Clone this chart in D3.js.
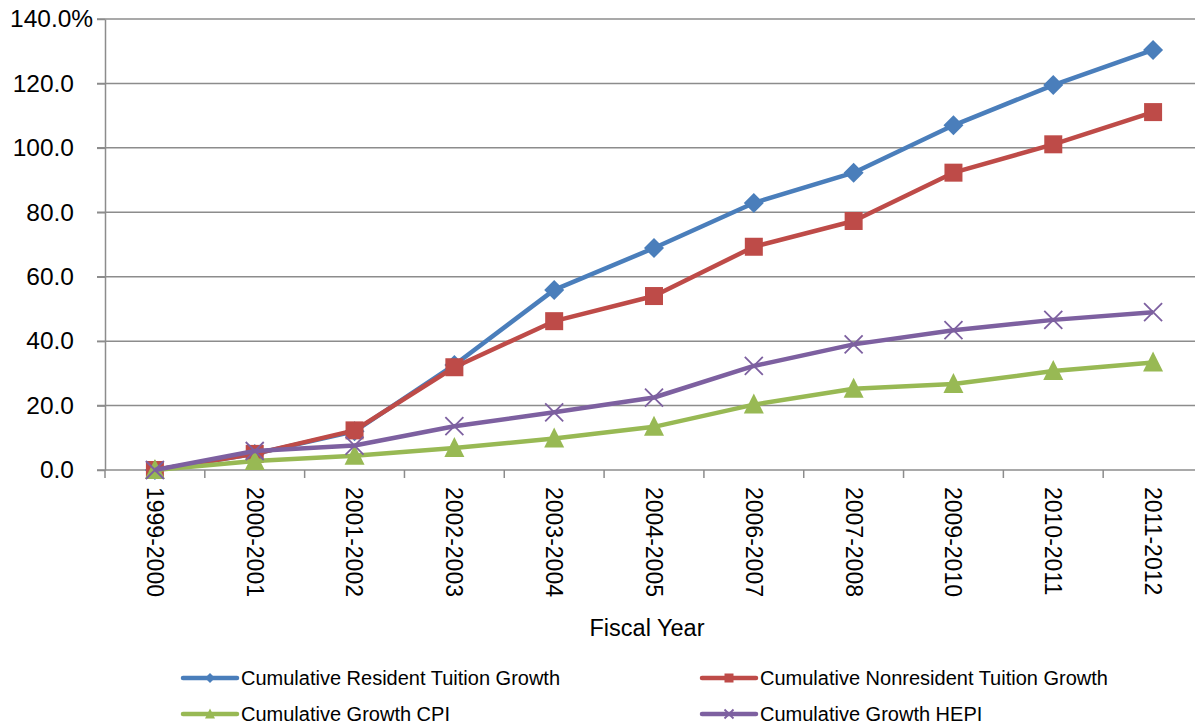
<!DOCTYPE html>
<html>
<head>
<meta charset="utf-8">
<script src="https://cdn.jsdelivr.net/npm/d3@7"></script>
<style>
  body { margin: 0; background: #fff; }
  text { font-family: "Liberation Sans", Arial, sans-serif; fill: #000; }
</style>
</head>
<body>
<div id="chart"></div>
<script>
// const
const width = 1195
const height = 726
const margin = { top: 19, bottom: 256, left: 105, right: -8 }

// data
const years = ["1999-2000", "2000-2001", "2001-2002", "2002-2003", "2003-2004", "2004-2005",
               "2006-2007", "2007-2008", "2009-2010", "2010-2011", "2011-2012"]
const resident    = [0, 5.0, 12.0, 32.6, 55.9, 68.9, 82.9, 92.3, 107.0, 119.5, 130.4]
const nonresident = [0, 5.0, 12.3, 31.9, 46.2, 54.0, 69.3, 77.3, 92.3, 101.1, 111.1]
const cpi         = [0, 2.8, 4.4, 6.8, 9.8, 13.4, 20.3, 25.2, 26.7, 30.7, 33.4]
const hepi        = [0, 5.9, 7.6, 13.6, 17.9, 22.5, 32.3, 39.0, 43.4, 46.6, 49.0]
const yTicks = [0, 20, 40, 60, 80, 100, 120, 140]

const series = [
  { name: "Cumulative Resident Tuition Growth", values: resident, color: "#4A7EBB", marker: "diamond" },
  { name: "Cumulative Nonresident Tuition Growth", values: nonresident, color: "#BE4B48", marker: "square" },
  { name: "Cumulative Growth CPI", values: cpi, color: "#98B954", marker: "triangle" },
  { name: "Cumulative Growth HEPI", values: hepi, color: "#7D60A0", marker: "cross" }
]

const svg = d3.select("#chart")
  .append("svg")
    .attr("width", width)
    .attr("height", height)

const x = d3.scalePoint()
  .domain(years)
  .range([margin.left, width - margin.right])
  .padding(0.5)

const y = d3.scaleLinear()
  .domain([0, 140])
  .range([height - margin.bottom, margin.top])

// gridlines
svg.append("g").selectAll("line")
  .data(yTicks.filter(d => d > 0))
  .join("line")
    .attr("x1", margin.left - 8)
    .attr("x2", width - margin.right)
    .attr("y1", d => y(d))
    .attr("y2", d => y(d))
    .attr("stroke", "#8c8c8c")
    .attr("stroke-width", 1.5)

// y axis
let yAxisGroup = svg.append("g")
  .attr("transform", `translate(${margin.left},0)`)
  .call(d3.axisLeft(y).tickValues(yTicks).tickSize(8).tickSizeOuter(0).tickFormat(d => d3.format(".1f")(d)))
yAxisGroup.select(".domain").attr("stroke", "#8c8c8c").attr("stroke-width", 1.5)
yAxisGroup.selectAll(".tick line").attr("stroke", "#8c8c8c").attr("stroke-width", 1.5)
yAxisGroup.selectAll(".tick text")
  .attr("x", -31)
  .attr("font-size", 24.5)
  .attr("font-family", "Liberation Sans, Arial, sans-serif")
  .attr("fill", "#000")
  .filter(d => d === 140)
  .append("tspan").text("%")
yAxisGroup.selectAll(".tick text").filter(d => d === 140).attr("text-anchor", "start").attr("x", -95)

// x axis
const step = x.step()
let xAxisGroup = svg.append("g")
  .attr("transform", `translate(0,${y(0)})`)
xAxisGroup.append("line")
  .attr("x1", margin.left - 8).attr("x2", width - margin.right)
  .attr("stroke", "#8c8c8c").attr("stroke-width", 1.5)
xAxisGroup.selectAll(".xtick")
  .data(d3.range(years.length + 1))
  .join("line")
    .attr("x1", i => margin.left + i * step)
    .attr("x2", i => margin.left + i * step)
    .attr("y1", 0).attr("y2", 8)
    .attr("stroke", "#8c8c8c").attr("stroke-width", 1.5)
xAxisGroup.selectAll(".xlabel")
  .data(years)
  .join("text")
    .attr("transform", d => `translate(${x(d)},17) rotate(90)`)
    .attr("dy", "0.35em")
    .attr("font-size", 23)
    .text(d => d)

svg.append("text")
  .attr("x", 647).attr("y", 636)
  .attr("text-anchor", "middle")
  .attr("font-size", 23.5)
  .text("Fiscal Year")

// markers
function drawMarker(g, type, color, s) {
  if (type === "diamond") {
    g.append("path").attr("d", `M0,${-s}L${s},0L0,${s}L${-s},0Z`).attr("fill", color)
  } else if (type === "square") {
    g.append("rect").attr("x", -s * 0.9).attr("y", -s * 0.9).attr("width", s * 1.8).attr("height", s * 1.8).attr("fill", color)
  } else if (type === "triangle") {
    g.append("path").attr("d", `M0,${-s * 1.1}L${s},${s * 0.9}L${-s},${s * 0.9}Z`).attr("fill", color)
  } else {
    g.append("path").attr("d", `M${-s * 0.9},${-s * 0.9}L${s * 0.9},${s * 0.9}M${s * 0.9},${-s * 0.9}L${-s * 0.9},${s * 0.9}`)
      .attr("stroke", color).attr("stroke-width", 1.8).attr("fill", "none")
  }
}

const line = d3.line()
  .x((d, i) => x(years[i]))
  .y(d => y(d))

series.forEach(s => {
  svg.append("path")
    .datum(s.values)
    .attr("fill", "none")
    .attr("stroke", s.color)
    .attr("stroke-width", 4.5)
    .attr("stroke-linejoin", "round")
    .attr("d", line)
  s.values.forEach((v, i) => {
    let g = svg.append("g").attr("transform", `translate(${x(years[i])},${y(v)})`)
    drawMarker(g, s.marker, s.color, 10)
  })
})

// legend
const legendPos = [[183, 678], [702, 678], [183, 714], [702, 714]]
series.forEach((s, i) => {
  let [lx, ly] = legendPos[i]
  let g = svg.append("g").attr("transform", `translate(${lx},${ly})`)
  g.append("line").attr("x1", 0).attr("x2", 54)
    .attr("stroke", s.color).attr("stroke-width", 4.5).attr("stroke-linecap", "round")
  let m = g.append("g").attr("transform", "translate(27,0)")
  drawMarker(m, s.marker, s.color, 5)
  g.append("text").attr("x", 58).attr("dy", "0.35em").attr("font-size", 20).text(s.name)
})
</script>
</body>
</html>
